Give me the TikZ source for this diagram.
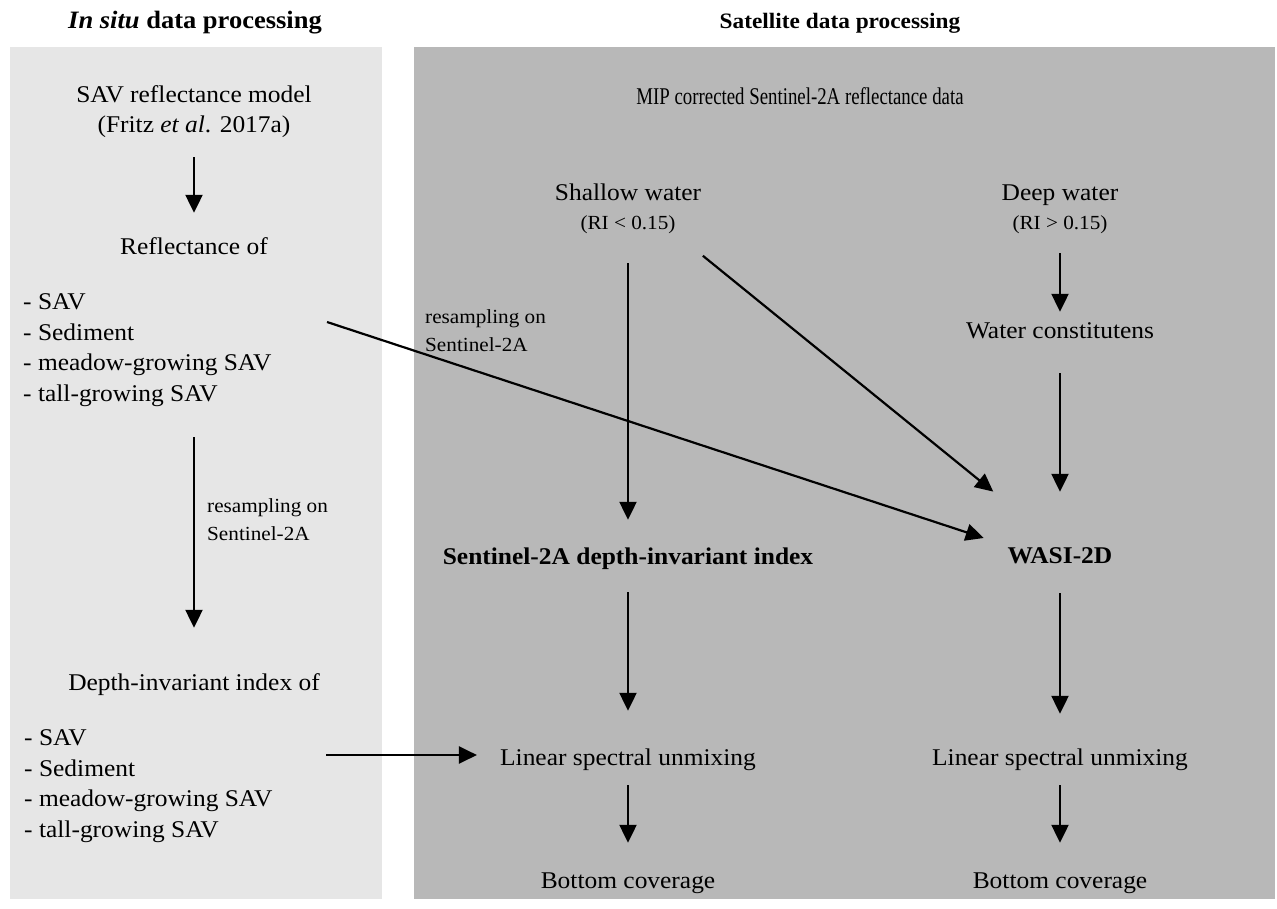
\documentclass[tikz,border=0pt]{standalone}
\usepackage{fontspec}
\setmainfont{Liberation Serif}[FakeStretch=1.06]
\usetikzlibrary{arrows.meta,calc}
\definecolor{panelL}{RGB}{230,230,230}
\definecolor{panelR}{RGB}{184,184,184}
\tikzset{
  txt/.style={inner sep=0pt, font=\fontsize{24}{29}\selectfont, text height=17pt, text depth=5pt, anchor=base},
  txtl/.style={txt, anchor=base west},
  bld/.style={txt, font=\fontsize{24}{29}\selectfont\bfseries},
  sml/.style={inner sep=0pt, font=\fontsize{20}{24}\selectfont, text height=14pt, text depth=4.5pt, anchor=base},
  smll/.style={sml, anchor=base west},
  arr/.style={line width=2.2pt, -{Triangle[length=18pt,width=17pt]}},
}
\begin{document}
\begin{tikzpicture}[x=1pt,y=-1pt]
\useasboundingbox (0,0) rectangle (1277,908);
\fill[white] (0,0) rectangle (1277,908);
% panels
\fill[panelL] (10,47) rectangle (382,899);
\fill[panelR] (414,47) rectangle (1275,899);
% headers
\node[txt, font=\fontsize{25}{30}\selectfont\bfseries] (hdrL) at (195,28) {\textit{In situ} data processing};
\node[txt, font=\fontsize{22}{27}\selectfont\bfseries] (hdrR) at (840,28) {Satellite data processing};
% left column
\node[txt] (model1) at (194,102) {SAV reflectance model};
\node[txt] (model2) at (194,132) {(Fritz \textit{et al}. 2017a)};
\node[txt] (refl) at (194,254) {Reflectance of};
\node[txtl] (l1a) at (23,309) {- SAV};
\node[txtl] (l1b) at (23,340) {- Sediment};
\node[txtl] (l1c) at (23,370) {- meadow-growing SAV};
\node[txtl] (l1d) at (23,401) {- tall-growing SAV};
\node[smll] (rsL1) at (207,512) {resampling on};
\node[smll] (rsL2) at (207,540) {Sentinel-2A};
\node[txt] (depth) at (194,690) {Depth-invariant index of};
\node[txtl] (l2a) at (24,745) {- SAV};
\node[txtl] (l2b) at (24,776) {- Sediment};
\node[txtl] (l2c) at (24,806) {- meadow-growing SAV};
\node[txtl] (l2d) at (24,837) {- tall-growing SAV};
% right column
\node[txt] (mip) at (800,104) {\scalebox{0.74}[1]{MIP corrected Sentinel-2A reflectance data}};
\node[txt] (shallow) at (628,200) {Shallow water};
\node[sml] (ri1) at (628,229) {(RI < 0.15)};
\node[txt] (deep) at (1060,200) {Deep water};
\node[sml] (ri2) at (1060,229) {(RI > 0.15)};
\node[txt] (water) at (1060,338) {Water constitutens};
\node[smll] (rsR1) at (425,323) {resampling on};
\node[smll] (rsR2) at (425,351) {Sentinel-2A};
\node[bld] (sdi) at (628,564) {Sentinel-2A depth-invariant index};
\node[bld] (wasi) at (1060,563) {WASI-2D};
\node[txt] (lin1) at (628,765) {Linear spectral unmixing};
\node[txt] (lin2) at (1060,765) {Linear spectral unmixing};
\node[txt] (bot1) at (628,888) {Bottom coverage};
\node[txt] (bot2) at (1060,888) {Bottom coverage};
% free ends
\coordinate (lstA) at (327,322);
\coordinate (lstB) at (326,755);
% connectors
\draw[arr, shorten <=20pt, shorten >=24pt] (model2.south) -- (refl.north);
\draw[arr, shorten <=31pt, shorten >=45pt] (l1d.south -| refl.south) -- (depth.north);
\draw[arr, shorten >=25pt] (lstA) -- (wasi.north west);
\draw[arr, shorten <=35pt, shorten >=86pt] (ri1.south east) -- (wasi.north);
\draw[arr, shorten <=29.5pt, shorten >=27pt] (ri1.south) -- (sdi.north);
\draw[arr, shorten <=19.5pt, shorten >=9pt] (ri2.south) -- (water.north);
\draw[arr, shorten <=30pt, shorten >=54pt] (water.south) -- (wasi.north);
\draw[arr, shorten <=23pt, shorten >=37pt] (sdi.south) -- (lin1.north);
\draw[arr, shorten <=25pt, shorten >=34pt] (wasi.south) -- (lin2.north);
\draw[arr, shorten <=15pt, shorten >=28pt] (lin1.south) -- (bot1.north);
\draw[arr, shorten <=15pt, shorten >=28pt] (lin2.south) -- (bot2.north);
\draw[arr, shorten >=23pt] (lstB) -- (lstB -| lin1.west);
\end{tikzpicture}
\end{document}
